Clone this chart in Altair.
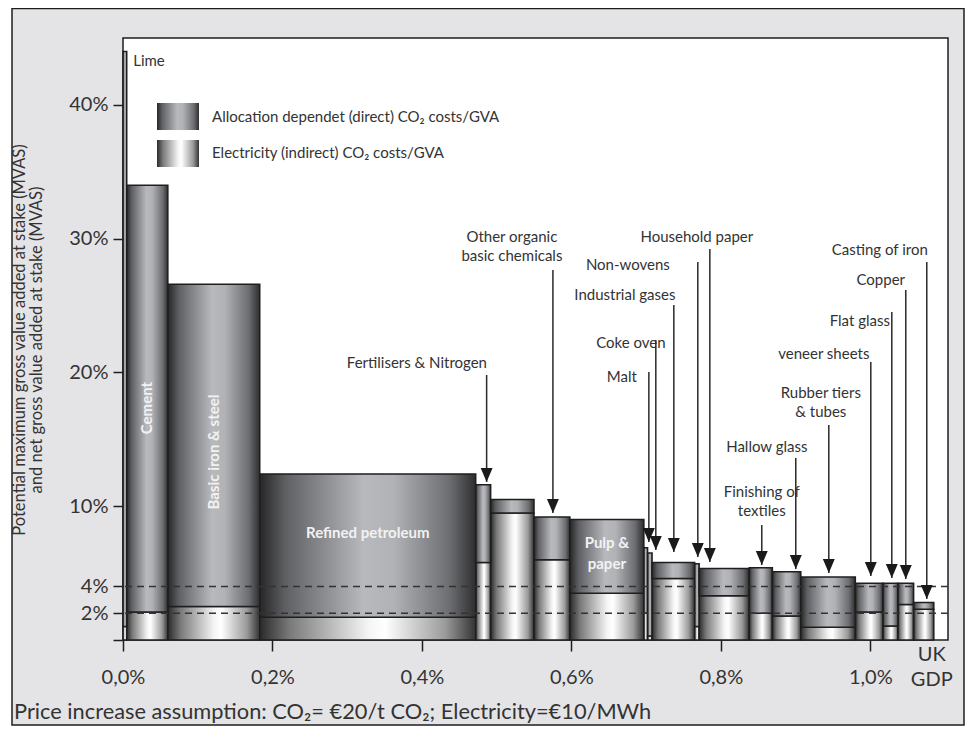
import altair as alt
import pandas as pd
import numpy as np

# ---------------- data ----------------
sectors = ["Lime", "Cement", "Basic iron & steel", "Refined petroleum",
           "Fertilisers & Nitrogen", "Other inorganic basic chemicals",
           "Other organic basic chemicals", "Pulp & paper", "Malt", "Coke oven",
           "Industrial gases", "Non-wovens", "Household paper",
           "Finishing of textiles", "Hallow glass", "Rubber tiers & tubes",
           "veneer sheets", "Flat glass", "Copper", "Casting of iron"]
gdp_share = [0.005, 0.055, 0.123, 0.289, 0.020, 0.058, 0.048, 0.099, 0.005, 0.006,
             0.057, 0.006, 0.067, 0.031, 0.038, 0.073, 0.037, 0.020, 0.021, 0.027]
mvas_total = [44.0, 34.0, 26.6, 12.4, 11.6, 10.5, 9.2, 9.0, 6.9, 6.5,
              5.8, 5.7, 5.35, 5.4, 5.1, 4.7, 4.25, 4.25, 4.25, 2.8]
mvas_indirect = [1.0, 2.1, 2.5, 1.7, 5.8, 9.5, 6.0, 3.5, 2.0, 0.3,
                 4.6, 1.0, 3.3, 2.0, 1.8, 0.95, 2.1, 1.05, 2.65, 2.3]

# annotation labels (y = first text line)
ann_labels = ["Lime", "Fertilisers & Nitrogen", "Other organic\nbasic chemicals",
              "Household paper", "Non-wovens", "Industrial gases", "Coke oven", "Malt",
              "Finishing of\ntextiles", "Hallow glass", "Rubber tiers\n& tubes",
              "veneer sheets", "Flat glass", "Copper", "Casting of iron"]
ann_x = [0.0348, 0.3933, 0.5204, 0.7679, 0.6756, 0.6716, 0.6796, 0.6676,
         0.8548, 0.8615, 0.9338, 0.9378, 0.9860, 1.0140, 1.0127]
ann_y = [43.28, 20.71, 30.12, 30.12, 28.03, 25.79, 22.20, 19.66,
         11.06, 14.43, 18.46, 21.38, 23.85, 26.91, 29.15]

arrow_x = [0.4866, 0.5753, 0.7853, 0.7692, 0.7371, 0.7130, 0.7037,
           0.8548, 0.9003, 0.9445, 1.0007, 1.0288, 1.0475, 1.0756]
arrow_top = [19.81, 27.66, 29.23, 28.26, 25.04, 22.42, 20.03,
             8.60, 13.60, 16.07, 20.78, 24.52, 26.16, 28.26]
arrow_tip = [11.81, 9.49, 5.83, 6.20, 6.58, 6.73, 7.33,
             5.61, 5.31, 5.01, 4.78, 4.63, 4.56, 3.06]

inbar_v_labels = ["Cement", "Basic iron & steel"]
inbar_v_sector = ["Cement", "Basic iron & steel"]
inbar_v_y = [17.34, 14.05]
inbar_h_labels = ["Refined petroleum", "Pulp &\npaper"]
inbar_h_sector = ["Refined petroleum", "Pulp & paper"]
inbar_h_y = [8.0, 7.25]

y_ticks = [0, 2, 4, 10, 20, 30, 40]
x_ticks = [0, 0.2, 0.4, 0.6, 0.8, 1.0]
ref_levels = [2, 4]

legend_labels = ["Allocation dependet (direct) CO\u2082 costs/GVA",
                 "Electricity (indirect) CO\u2082 costs/GVA"]
legend_x = [0.0455, 0.1017]
legend_y_top = [40.14, 37.37]
legend_y_bot = [38.12, 35.36]
legend_text_x = 0.1191
legend_text_y = [39.09, 36.40]

# ---------------- tables ----------------
share = np.array(gdp_share)
x_end = np.cumsum(share)
x_start = x_end - share
bars = pd.DataFrame({"sector": sectors, "x0": x_start, "x1": x_end,
                     "base": 0.0, "ind": mvas_indirect, "tot": mvas_total})
centers = dict(zip(sectors, (x_start + x_end) / 2))

W, H = 825, 602
xs = alt.Scale(domain=[0, 1.104], nice=False, zero=False)
ys = alt.Scale(domain=[0, 45], nice=False, zero=False)
FONT = "Lato"
DARK = "#1e1e1e"
TXT = "#333333"

def grad(stops):
    return alt.LinearGradient(gradient="linear", x1=0, y1=0, x2=1, y2=0,
                              stops=[alt.GradientStop(offset=o, color=c) for o, c in stops])

g_direct = grad([(0.0, "#262628"), (0.12, "#5f6063"), (0.48, "#b8b9bd"),
                 (0.62, "#b1b2b6"), (0.88, "#6c6d70"), (1.0, "#2e2e30")])
g_indirect = grad([(0.0, "#2a2a2a"), (0.14, "#7a7a7a"), (0.5, "#f4f4f4"),
                   (0.58, "#ffffff"), (0.86, "#9a9a9a"), (1.0, "#333333")])

one = pd.DataFrame({"d": [0]})

x_axis = alt.Axis(values=x_ticks, title="", domain=False, grid=False,
                  labelExpr="replace(format(datum.value, '.1f'), '.', ',') + '%'",
                  tickSize=11, tickWidth=1.5, tickColor=DARK, labelFont=FONT,
                  labelFontSize=20, labelColor=TXT, labelPadding=16,
                  labelFlush=False, labelOverlap=False, zindex=1)
y_axis = alt.Axis(values=y_ticks, title="", domain=False, grid=False,
                  labelExpr="datum.value == 0 ? '' : datum.value + '%'",
                  tickSize=10, tickWidth=1.5, tickColor=DARK, labelFont=FONT,
                  labelFontSize=20, labelColor=TXT, labelPadding=5,
                  labelOverlap=False, zindex=1)

def X(f):
    return alt.X(f, scale=xs, axis=x_axis)

def Y(f):
    return alt.Y(f, scale=ys, axis=y_axis)

frame = alt.Chart(one).mark_rect(fill="#e4e4e6", stroke=DARK, strokeWidth=1.5).encode(
    x=alt.value(-111), x2=alt.value(841), y=alt.value(-29.5), y2=alt.value(687))
plot_bg = alt.Chart(one).mark_rect(fill="white", stroke=DARK, strokeWidth=1.5).encode(
    x=alt.value(0), x2=alt.value(W), y=alt.value(0), y2=alt.value(H))

ind_bars = alt.Chart(bars).mark_rect(fill=g_indirect, stroke=DARK, strokeWidth=1.5).encode(
    x=X("x0:Q"), x2="x1:Q", y=Y("base:Q"), y2="ind:Q")
dir_bars = alt.Chart(bars).mark_rect(fill=g_direct, stroke=DARK, strokeWidth=1.5).encode(
    x=X("x0:Q"), x2="x1:Q", y=Y("ind:Q"), y2="tot:Q")

dashes = alt.Chart(pd.DataFrame({"lvl": ref_levels})).mark_rule(
    color="#333333", strokeWidth=1.6, strokeDash=[7, 5]).encode(y=Y("lvl:Q"))

inv = pd.DataFrame({"t": inbar_v_labels, "x": [centers[s] for s in inbar_v_sector],
                    "y": inbar_v_y})
inbar_v = alt.Chart(inv).mark_text(font=FONT, fontSize=15, fontWeight="bold", color="#f2f2f2",
                                   angle=270, align="center", baseline="middle").encode(
    x=X("x:Q"), y=Y("y:Q"), text="t:N")
inh = pd.DataFrame({"t": inbar_h_labels, "x": [centers[s] for s in inbar_h_sector],
                    "y": inbar_h_y})
inbar_h = alt.Chart(inh).mark_text(font=FONT, fontSize=15, fontWeight="bold", color="#f2f2f2",
                                   align="center", baseline="middle", lineBreak="\n",
                                   lineHeight=21).encode(
    x=X("x:Q"), y=Y("y:Q"), text="t:N")

arr = pd.DataFrame({"x": arrow_x, "top": arrow_top, "tip": arrow_tip})
arrows = alt.Chart(arr).mark_rule(color="#2a2a2a", strokeWidth=1.5).encode(
    x=X("x:Q"), y=Y("top:Q"), y2="tip:Q")
heads = alt.Chart(arr).mark_point(shape="M-0.85,-1L0.85,-1L0,1Z", filled=True, size=196,
                                  opacity=1, color="#1a1a1a", strokeWidth=0, yOffset=-7).encode(
    x=X("x:Q"), y=Y("tip:Q"))

ann = pd.DataFrame({"t": ann_labels, "x": ann_x, "y": ann_y})
ann_text = alt.Chart(ann).mark_text(font=FONT, fontSize=15, color=TXT, align="center",
                                    baseline="middle", lineBreak="\n", lineHeight=19).encode(
    x=X("x:Q"), y=Y("y:Q"), text="t:N")

leg1 = alt.Chart(pd.DataFrame({"x0": [legend_x[0]], "x1": [legend_x[1]],
                               "y0": [legend_y_top[0]], "y1": [legend_y_bot[0]]})).mark_rect(
    fill=g_direct).encode(x=X("x0:Q"), x2="x1:Q", y=Y("y0:Q"), y2="y1:Q")
leg2 = alt.Chart(pd.DataFrame({"x0": [legend_x[0]], "x1": [legend_x[1]],
                               "y0": [legend_y_top[1]], "y1": [legend_y_bot[1]]})).mark_rect(
    fill=g_indirect).encode(x=X("x0:Q"), x2="x1:Q", y=Y("y0:Q"), y2="y1:Q")
leg_text = alt.Chart(pd.DataFrame({"t": legend_labels, "x": legend_text_x,
                                   "y": legend_text_y})).mark_text(
    font=FONT, fontSize=15, color=TXT, align="left", baseline="middle").encode(
    x=X("x:Q"), y=Y("y:Q"), text="t:N")

uk = alt.Chart(pd.DataFrame({"t": ["UK\nGDP"], "x": [1.0823]})).mark_text(
    font=FONT, fontSize=20, color=TXT, align="center", baseline="middle",
    lineBreak="\n", lineHeight=25).encode(
    x=X("x:Q"), y=alt.value(H + 15), text="t:N")

bottom = alt.Chart(pd.DataFrame({"t": ["Price increase assumption: CO\u2082= \u20ac20/t CO\u2082; Electricity=\u20ac10/MWh"]})).mark_text(
    font=FONT, fontSize=21.8, color=TXT, align="left", baseline="middle").encode(
    x=alt.value(-109), y=alt.value(674), text="t:N")

ytitle = alt.Chart(pd.DataFrame({"t": ["Potential maximum gross value added at stake (MVAS)\nand net gross value added at stake (MVAS)"]})).mark_text(
    font=FONT, fontSize=16.5, color=TXT, align="center", baseline="middle", angle=270,
    lineBreak="\n", lineHeight=17).encode(
    x=alt.value(-103), y=alt.value(302), text="t:N")

chart = alt.layer(frame, plot_bg, ind_bars, dir_bars, dashes, inbar_v, inbar_h,
                  arrows, heads, ann_text, leg1, leg2, leg_text, uk, bottom, ytitle).properties(
    width=W, height=H, background="white",
    autosize=alt.AutoSizeParams(type="none"),
    padding={"left": 115, "top": 30, "right": 17, "bottom": 86}
).configure_view(strokeWidth=0)

chart.save("out.html", embed_options={"renderer": "svg", "actions": False})
